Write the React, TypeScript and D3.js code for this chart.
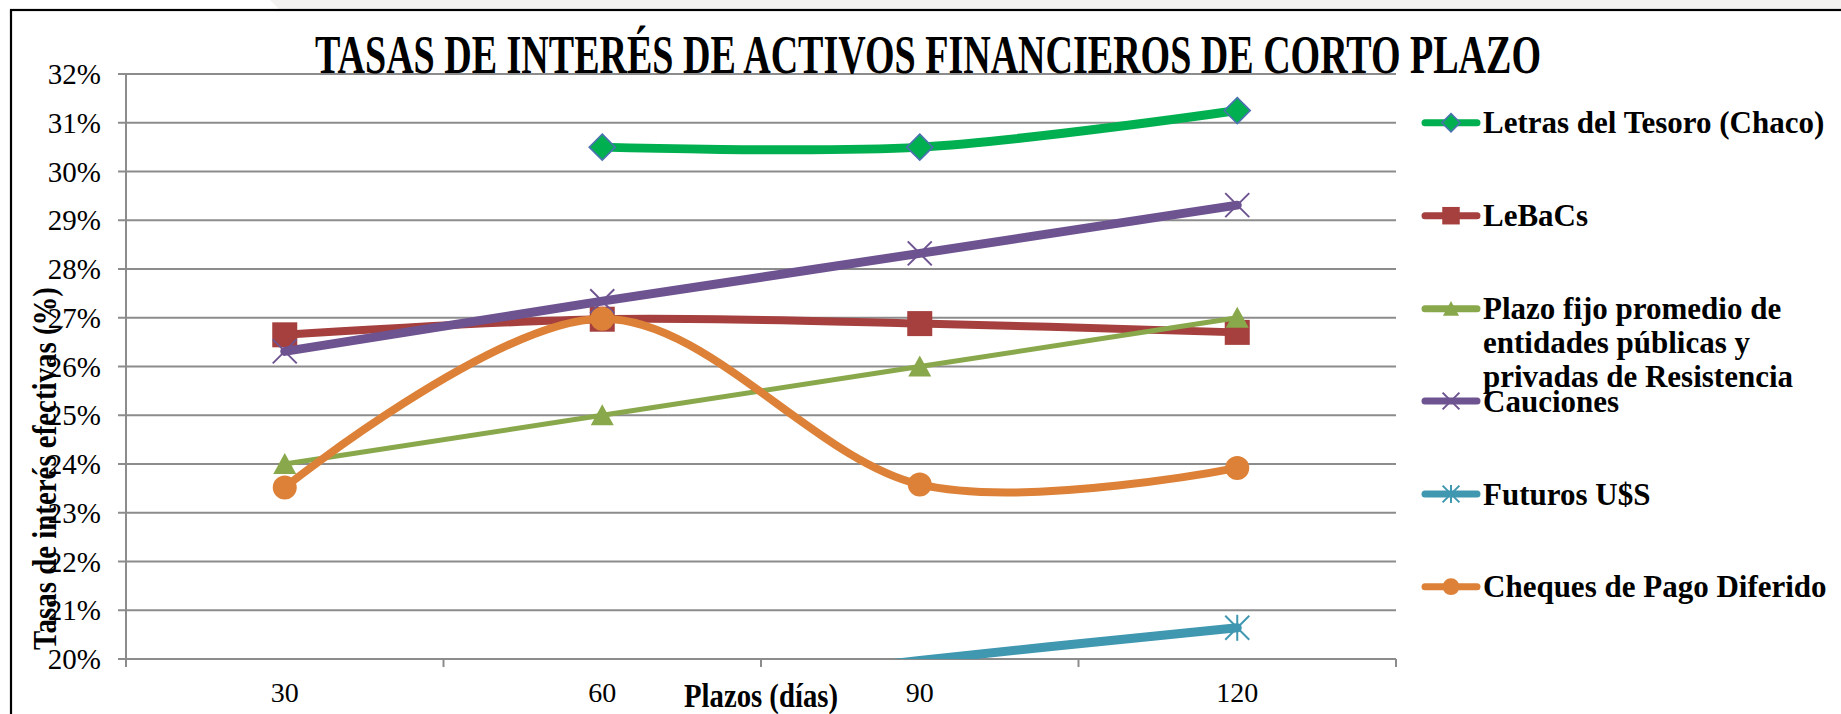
import React from 'react';
import * as d3 from 'd3';

// plazos en días (categorías del eje X)
const plazos = ['30', '60', '90', '120'];

// tasas de interés efectivas (%) por serie
const letrasTesoro = [null, 30.5, 30.5, 31.25];
const lebacs = [26.65, 26.97, 26.88, 26.7];
const plazoFijo = [24.0, 25.0, 26.0, 27.0];
const cauciones = [26.31, 27.34, 28.32, 29.31];
const futurosUSS = [null, 19.2, 19.97, 20.64];
const chequesPago = [23.52, 26.98, 23.58, 23.92];

// eje Y
const yTickValues = [20, 21, 22, 23, 24, 25, 26, 27, 28, 29, 30, 31, 32];
const yTickLabels = ['20%', '21%', '22%', '23%', '24%', '25%', '26%', '27%', '28%', '29%', '30%', '31%', '32%'];

const seriesNames = [
    ['Letras del Tesoro (Chaco)'],
    ['LeBaCs'],
    ['Plazo fijo promedio de', 'entidades públicas y', 'privadas de Resistencia'],
    ['Cauciones'],
    ['Futuros U$S'],
    ['Cheques de Pago Diferido'],
];

type Marker = 'diamond' | 'square' | 'triangle' | 'x' | 'star' | 'circle';

const series = [
    { values: letrasTesoro, color: '#00b050', marker: 'diamond' as Marker, smooth: true, width: 9 },
    { values: lebacs, color: '#a5403e', marker: 'square' as Marker, smooth: true, width: 8 },
    { values: plazoFijo, color: '#89a84b', marker: 'triangle' as Marker, smooth: false, width: 5 },
    { values: cauciones, color: '#6e5391', marker: 'x' as Marker, smooth: false, width: 9 },
    { values: futurosUSS, color: '#3f97b0', marker: 'star' as Marker, smooth: true, width: 9 },
    { values: chequesPago, color: '#dc8137', marker: 'circle' as Marker, smooth: true, width: 8 },
].map((s, i) => ({ ...s, name: seriesNames[i] }));

const FONT = '"Liberation Serif", "Times New Roman", serif';

const MarkerShape = ({ type, color, s = 1 }: { type: Marker; color: string; s?: number }) => {
    switch (type) {
        case 'diamond':
            return <path d={`M0,${-13 * s}L${13 * s},0L0,${13 * s}L${-13 * s},0Z`} fill={color} stroke="#4a72b0" strokeWidth={1.6} />;
        case 'square':
            return <rect x={-12.5 * s} y={-12.5 * s} width={25 * s} height={25 * s} fill={color} />;
        case 'triangle':
            return <path d={`M0,${-11 * s}L${11.5 * s},${10 * s}L${-11.5 * s},${10 * s}Z`} fill={color} />;
        case 'x':
            return (
                <g stroke={color} strokeWidth={2}>
                    <line x1={-12 * s} y1={-12 * s} x2={12 * s} y2={12 * s} />
                    <line x1={-12 * s} y1={12 * s} x2={12 * s} y2={-12 * s} />
                </g>
            );
        case 'star':
            return (
                <g stroke={color} strokeWidth={2}>
                    <line x1={-12 * s} y1={-12 * s} x2={12 * s} y2={12 * s} />
                    <line x1={-12 * s} y1={12 * s} x2={12 * s} y2={-12 * s} />
                    <line x1={0} y1={-13 * s} x2={0} y2={13 * s} />
                </g>
            );
        default:
            return <circle r={12 * s} fill={color} />;
    }
};

const App = () => {
    const width = 1841;
    const height = 714;
    const plot = { left: 126, right: 1396, top: 74, bottom: 659 };

    const x = d3.scaleBand<string>().domain(plazos).range([plot.left, plot.right]);
    const y = d3.scaleLinear().domain([20, 32]).range([plot.bottom, plot.top]);
    const cx = (i: number) => (x(plazos[i]) as number) + x.bandwidth() / 2;

    const boundaries = d3.range(plazos.length + 1).map(i => plot.left + i * x.bandwidth());

    const legendY = [122.7, 215.7, 308.7, 401, 494, 586.7];

    return (
        <svg width={width} height={height} viewBox={`0 0 ${width} ${height}`}
            style={{ position: 'absolute', left: 0, top: 0, background: '#fff' }}>
            <defs>
                <clipPath id="plotClip">
                    <rect x={plot.left} y={plot.top} width={plot.right - plot.left} height={plot.bottom - plot.top} />
                </clipPath>
            </defs>

            {/* fondo gris claro arriba */}
            <path d={`M270,0L${width},0L${width},10L280,10Z`} fill="#f3f2f0" />
            {/* marco */}
            <rect x={11} y={10} width={width + 20} height={height + 20} fill="#fff" stroke="#000" strokeWidth={2.2} />

            {/* grilla y eje Y */}
            {yTickValues.map((v, i) => (
                <g key={`gy-${i}`}>
                    <line x1={plot.left - 8} x2={plot.right} y1={y(v)} y2={y(v)} stroke="#8c8c8c" strokeWidth={2} />
                    <text x={101} y={y(v)} dy="0.35em" textAnchor="end" fontFamily={FONT} fontSize={29} fill="#000">
                        {yTickLabels[i]}
                    </text>
                </g>
            ))}
            <line x1={plot.left} x2={plot.left} y1={plot.top} y2={plot.bottom + 8} stroke="#8c8c8c" strokeWidth={2} />
            {boundaries.map((bx, i) => (
                <line key={`tx-${i}`} x1={bx} x2={bx} y1={plot.bottom} y2={plot.bottom + 8} stroke="#8c8c8c" strokeWidth={2} />
            ))}
            {plazos.map((p, i) => (
                <text key={`lx-${p}`} x={cx(i)} y={702} textAnchor="middle" fontFamily={FONT} fontSize={28} fill="#000">{p}</text>
            ))}

            {/* series */}
            {series.map((s, si) => {
                const pts = s.values.map((v, i) => ({ i, v }));
                const line = d3.line<{ i: number; v: number | null }>()
                    .defined(d => d.v != null)
                    .x(d => cx(d.i))
                    .y(d => y(d.v as number))
                    .curve(s.smooth ? d3.curveCardinal.tension(0) : d3.curveLinear);
                return (
                    <g key={`s-${si}`}>
                        <path d={line(pts) || ''} fill="none" stroke={s.color} strokeWidth={s.width}
                            strokeLinejoin="round" strokeLinecap="round" clipPath="url(#plotClip)" />
                        {pts.filter(d => d.v != null && d.v >= 20 && d.v <= 32).map(d => (
                            <g key={`m-${si}-${d.i}`} transform={`translate(${cx(d.i)},${y(d.v as number)})`}>
                                <MarkerShape type={s.marker} color={s.color} />
                            </g>
                        ))}
                    </g>
                );
            })}

            {/* título */}
            <text x={315} y={73} textLength={1226} lengthAdjust="spacingAndGlyphs" fontFamily={FONT}
                fontWeight="bold" fontSize={55} fill="#000">
                TASAS DE INTERÉS DE ACTIVOS FINANCIEROS DE CORTO PLAZO
            </text>

            {/* títulos de ejes */}
            <text transform="translate(56,468.5) rotate(-90)" textAnchor="middle" textLength={363}
                lengthAdjust="spacingAndGlyphs" fontFamily={FONT} fontWeight="bold" fontSize={34} fill="#000">
                Tasas de interés efectivas (%)
            </text>
            <text x={761} y={707} textAnchor="middle" textLength={154} lengthAdjust="spacingAndGlyphs"
                fontFamily={FONT} fontWeight="bold" fontSize={34} fill="#000">
                Plazos (días)
            </text>

            {/* leyenda */}
            {series.map((s, si) => (
                <g key={`lg-${si}`} transform={`translate(0,${legendY[si]})`}>
                    <line x1={1425} x2={1477} y1={0} y2={0} stroke={s.color} strokeWidth={7} strokeLinecap="round" />
                    <g transform="translate(1451,0)">
                        <MarkerShape type={s.marker} color={s.color} s={0.7} />
                    </g>
                    {s.name.map((t, li) => (
                        <text key={li} x={1483} y={10.5 + li * 34} fontFamily={FONT} fontWeight="bold" fontSize={31} fill="#000">{t}</text>
                    ))}
                </g>
            ))}
        </svg>
    );
};

export default App;
